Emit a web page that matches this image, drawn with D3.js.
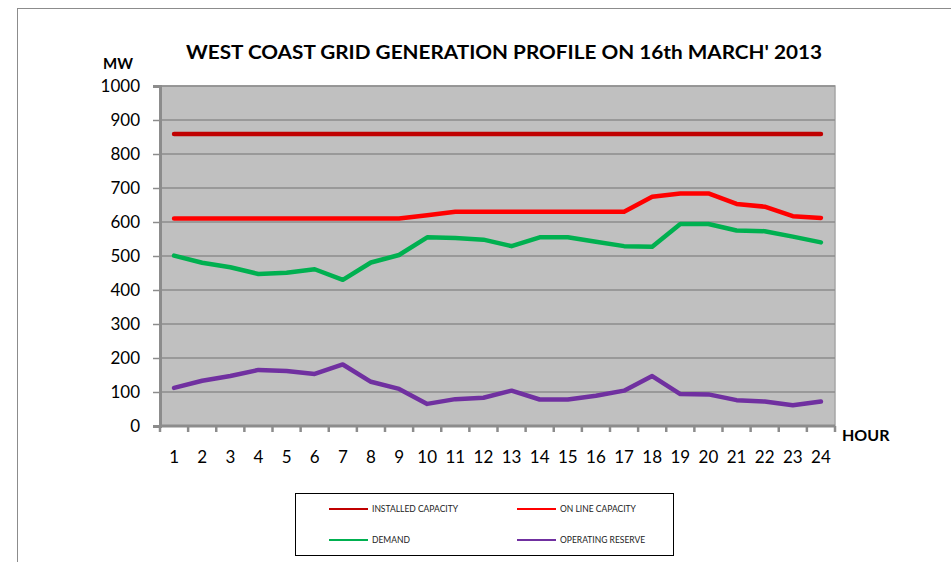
<!DOCTYPE html>
<html>
<head>
<meta charset="utf-8">
<script src="https://cdn.jsdelivr.net/npm/d3@7"></script>
<style>
body { margin: 0; background: #fff; }
text { font-family: Lato, "Open Sans", sans-serif; }
</style>
</head>
<body>
<script>
var hours = [1,2,3,4,5,6,7,8,9,10,11,12,13,14,15,16,17,18,19,20,21,22,23,24];
var installed = [859,859,859,859,859,859,859,859,859,859,859,859,859,859,859,859,859,859,859,859,859,859,859,859];
var online = [610,610,610,610,610,610,610,610,610,620,630,630,630,630,630,630,630,674,684,684,653,645,617,612];
var demand = [501,480,467,447,451,461,430,481,503,555,553,548,529,555,555,542,529,527,594,594,575,573,557,540];
var reserve = [112,133,147,165,162,153,181,130,109,65,79,83,104,78,78,89,104,147,94,93,76,72,61,72];
var yTicks = [0,100,200,300,400,500,600,700,800,900,1000];

var series = [
  {name:"INSTALLED CAPACITY", values:installed, color:"#C00000"},
  {name:"ON LINE CAPACITY", values:online, color:"#FF0000"},
  {name:"DEMAND", values:demand, color:"#00B050"},
  {name:"OPERATING RESERVE", values:reserve, color:"#7030A0"}
];

var W = 951, H = 562;
var margin = {left:160, top:86, right:116, bottom:136};
var width = W - margin.left - margin.right;
var height = H - margin.top - margin.bottom;

var svg = d3.select("body").append("svg").attr("width",W).attr("height",H);

// outer chart border
svg.append("rect").attr("x",17.5).attr("y",8.5).attr("width",W).attr("height",H)
  .attr("fill","none").attr("stroke","#8c8c8c").attr("stroke-width",1);

var x = d3.scaleBand().domain(hours).range([0,width]);
var y = d3.scaleLinear().domain([0,1000]).range([height,0]);

var g = svg.append("g").attr("transform","translate("+margin.left+","+margin.top+")");

g.append("rect").attr("width",width).attr("height",height)
  .attr("fill","#c0c0c0").attr("stroke","#a6a6a6").attr("stroke-width",1.5);

// gridlines
g.selectAll(".grid").data(yTicks.slice(1)).enter().append("line")
  .attr("x1",0).attr("x2",width)
  .attr("y1",d => y(d)).attr("y2",d => y(d))
  .attr("stroke","#8c8c8c").attr("stroke-width",1.5);

// y axis
var yAxis = d3.axisLeft(y).tickValues(yTicks).tickFormat(d3.format("d")).tickSize(7).tickPadding(13);
var ya = g.append("g").call(yAxis);
ya.select(".domain").attr("stroke","#8c8c8c").attr("stroke-width",3);
ya.selectAll(".tick line").attr("stroke","#8c8c8c").attr("stroke-width",1.5);
ya.selectAll("text").attr("font-size","17px").attr("fill","#000");

// x axis: ticks at category boundaries
var bounds = hours.map(h => x(h)).concat([width]);
var xa = g.append("g").attr("transform","translate(0,"+height+")");
xa.append("line").attr("x1",0).attr("x2",width).attr("stroke","#8c8c8c").attr("stroke-width",3);
xa.selectAll(".xt").data(bounds).enter().append("line")
  .attr("x1",d => d).attr("x2",d => d).attr("y1",0).attr("y2",6)
  .attr("stroke","#8c8c8c").attr("stroke-width",2.5);
xa.selectAll(".xl").data(hours).enter().append("text")
  .attr("x",d => x(d) + x.bandwidth()/2).attr("y",37)
  .attr("text-anchor","middle").attr("font-size","17px").text(d => d);

// lines
var line = d3.line().x((d,i) => x(hours[i]) + x.bandwidth()/2).y(d => y(d));
series.forEach(function(s){
  g.append("path").attr("d",line(s.values)).attr("fill","none")
    .attr("stroke",s.color).attr("stroke-width",4.5)
    .attr("stroke-linecap","round").attr("stroke-linejoin","round");
});

// titles
svg.append("text").attr("x",504).attr("y",59).attr("text-anchor","middle")
  .attr("font-size","19px").attr("font-weight","bold")
  .attr("textLength",636).attr("lengthAdjust","spacingAndGlyphs")
  .text("WEST COAST GRID GENERATION PROFILE ON 16th MARCH' 2013");
svg.append("text").attr("x",118).attr("y",69).attr("text-anchor","middle")
  .attr("font-size","15px").attr("font-weight","bold").text("MW");
svg.append("text").attr("x",842).attr("y",441)
  .attr("font-size","16px").attr("font-weight","bold").text("HOUR");

// legend
var leg = svg.append("g").attr("transform","translate(295,493)");
leg.append("rect").attr("x",0.5).attr("y",0.5).attr("width",378).attr("height",62)
  .attr("fill","#fff").attr("stroke","#000").attr("stroke-width",1);
var lpos = [[34,16],[222,16],[34,47],[222,47]];
series.forEach(function(s,i){
  var p = lpos[i];
  leg.append("line").attr("x1",p[0]).attr("x2",p[0]+39).attr("y1",p[1]).attr("y2",p[1])
    .attr("stroke",s.color).attr("stroke-width",2);
  leg.append("text").attr("x",p[0]+43).attr("y",p[1]+3)
    .attr("font-size","8.5px").attr("fill","#222").text(s.name);
});
</script>
</body>
</html>
